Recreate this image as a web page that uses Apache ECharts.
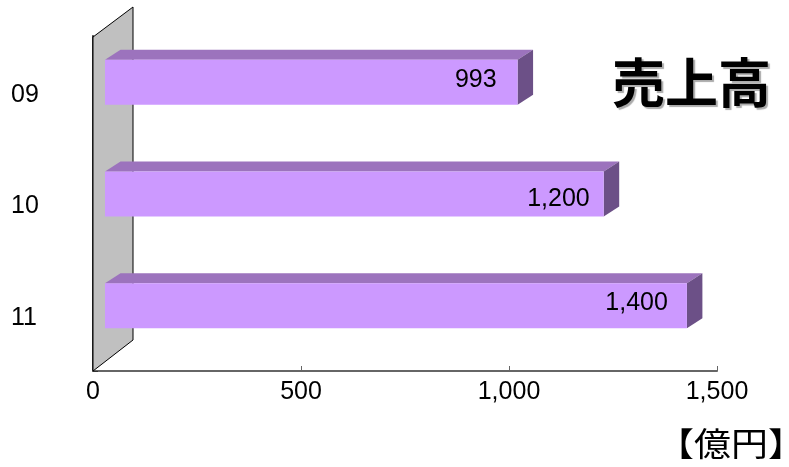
<!DOCTYPE html>
<html><head><meta charset="utf-8">
<style>html,body{margin:0;padding:0;background:#fff}#c{width:789px;height:467px}</style>
<script src="https://cdn.jsdelivr.net/npm/echarts@6/dist/echarts.min.js"></script>
</head><body><div id="c"></div>
<script>
const categories = ['09', '10', '11'];
const sales = [993, 1200, 1400];
const valueLabels = ['993', '1,200', '1,400'];
const chartTitle = '売上高';
const unitLabel = '【億円】';

const NUM_FONT = '"Liberation Sans"';
const JP_FONT = '"Noto Sans CJK JP"';
const WALL_DX = 40, WALL_DY = 30;
const LABEL_NUDGE = [[-21, -12], [-14, -4], [-19, -12]];

function wallItem(params, api) {
  const g = params.coordSys;
  const l = g.x, t = g.y + 1, b = g.y + g.height;
  return {
    type: 'polygon', silent: true,
    shape: { points: [[l, t], [l + WALL_DX, t - WALL_DY], [l + WALL_DX, b - WALL_DY - 1], [l, b]] },
    style: { fill: '#c0c0c0', stroke: '#000', lineWidth: 1 }
  };
}
function barItem(params, api) {
  const i = api.value(1);
  const base = api.coord([0, i]);
  const end = api.coord([api.value(0), i]);
  const x0 = base[0] + 12, x1 = end[0] + 11.5;
  const y0 = base[1] - 32, y1 = base[1] + 13;
  const dx = 15.5, dy = 10;
  const nudge = LABEL_NUDGE[i];
  return {
    type: 'group',
    children: [
      { type: 'polygon', shape: { points: [[x0, y0], [x0 + dx, y0 - dy], [x1 + dx, y0 - dy], [x1, y0]] }, style: { fill: '#9c73bd' } },
      { type: 'polygon', shape: { points: [[x1, y0], [x1 + dx, y0 - dy], [x1 + dx, y1 - dy], [x1, y1]] }, style: { fill: '#6c5087' } },
      { type: 'rect', shape: { x: x0, y: y0, width: x1 - x0, height: y1 - y0 }, style: { fill: '#cc99ff' } },
      { type: 'text', style: { text: valueLabels[i], x: x1 + nudge[0], y: base[1] + nudge[1], align: 'right', verticalAlign: 'middle', fill: '#000', font: '25px ' + NUM_FONT } }
    ]
  };
}
const chart = echarts.init(document.getElementById('c'), null, { renderer: 'canvas', width: 789, height: 467 });
chart.setOption({
  animation: false,
  backgroundColor: '#fff',
  title: [
    { text: chartTitle, left: 607, top: 51, textStyle: { fontFamily: JP_FONT, fontSize: 53, fontWeight: 'bold', color: '#000', textShadowColor: '#aaa', textShadowBlur: 1, textShadowOffsetX: 2, textShadowOffsetY: 2 } }
  ],
  graphic: [
    { type: 'text', x: 657, y: 443, scaleX: 1.12, scaleY: 1, style: { text: unitLabel, font: '33px ' + JP_FONT, fill: '#000', verticalAlign: 'middle' } }
  ],
  grid: { left: 93, right: 72, top: 36, bottom: 96 },
  xAxis: {
    type: 'value', min: 0, max: 1500, interval: 500, splitLine: { show: false },
    axisLine: { show: true, onZero: false, lineStyle: { color: '#666', width: 2 } },
    axisTick: { show: true, inside: true, length: 5, lineStyle: { color: '#666', width: 1 } },
    axisLabel: { margin: 9, fontFamily: NUM_FONT, fontSize: 25, color: '#000',
      formatter: v => v.toLocaleString('en-US') }
  },
  yAxis: {
    type: 'category', inverse: true, data: categories,
    axisLine: { show: true, lineStyle: { color: '#333', width: 2 } },
    axisTick: { show: true, inside: true, length: 5, lineStyle: { color: '#333', width: 1 } },
    axisLabel: { align: 'left', verticalAlign: 'top', lineHeight: 6, margin: 82, fontFamily: NUM_FONT, fontSize: 25, color: '#000' }
  },
  series: [
    { type: 'custom', coordinateSystem: 'cartesian2d', renderItem: wallItem, data: [[0, 0]], clip: false, z: 1, silent: true },
    { type: 'custom', coordinateSystem: 'cartesian2d', renderItem: barItem, clip: false, z: 3, silent: true,
      encode: { x: 0, y: 1 }, data: sales.map((v, i) => [v, i]) }
  ]
});
</script></body></html>
